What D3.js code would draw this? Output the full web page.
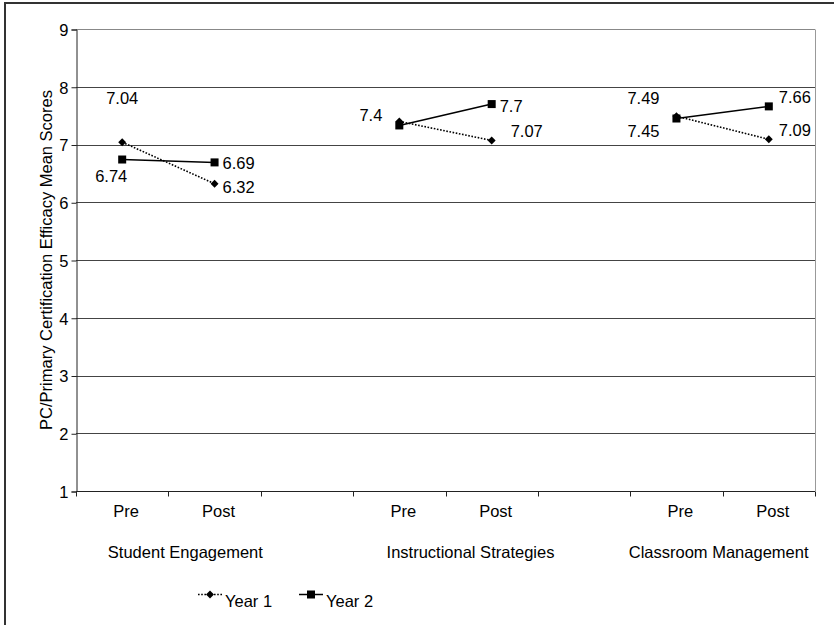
<!DOCTYPE html>
<html>
<head>
<meta charset="utf-8">
<script src="https://cdn.jsdelivr.net/npm/d3@7"></script>
<style>
  body { margin: 0; background: #fff; }
  svg text { font-family: "Liberation Sans", Arial, sans-serif; font-size: 16.5px; fill: #000; }
</style>
</head>
<body>
<div id="chart"></div>
<script>
// chart values
const groups = ["Student Engagement", "Instructional Strategies", "Classroom Management"];
const phases = ["Pre", "Post"];
const yTicks = [1, 2, 3, 4, 5, 6, 7, 8, 9];
const year1 = [7.04, 6.32, 7.40, 7.07, 7.49, 7.09];
const year2 = [6.74, 6.69, 7.33, 7.70, 7.45, 7.66];
const year1Labels = ["7.04", "6.32", "7.4", "7.07", "7.49", "7.09"];
const year2Labels = ["6.74", "6.69", null, "7.7", "7.45", "7.66"];
const seriesNames = ["Year 1", "Year 2"];

// hand placed label offsets (like the original sheet) [dx, dy to baseline, anchor]
const year1Offsets = [[0, -38, "middle"], [8, 9, "start"], [-17, 0, "end"], [19, -3, "start"], [-33, -12, "middle"], [10, -3, "start"]];
const year2Offsets = [[-11, 22, "middle"], [8, 7, "start"], [0, 0, "start"], [8, 8, "start"], [-33, 18, "middle"], [10, -3, "start"]];
const groupShift = [17, 25, -4];

const W = 834, H = 625;
const margin = { top: 29, right: 19, bottom: 134, left: 76 };

const svg = d3.select("#chart").append("svg")
    .attr("width", W).attr("height", H);

// outer frame (only top + left show in the picture)
svg.append("rect")
    .attr("x", 5).attr("y", 3)
    .attr("width", W + 20).attr("height", H + 20)
    .attr("fill", "none").attr("stroke", "#333").attr("stroke-width", 2);

// slots: Pre, Post, gap, Pre, Post, gap, Pre, Post
const slots = [];
groups.forEach((g, i) => {
    phases.forEach(p => slots.push(i + "-" + p));
    if (i < groups.length - 1) slots.push(i + "-gap");
});
const keys = [];
groups.forEach((g, i) => phases.forEach(p => keys.push(i + "-" + p)));

const x = d3.scaleBand().domain(slots).range([margin.left, W - margin.right]).padding(0);
const y = d3.scaleLinear().domain([1, 9]).range([H - margin.bottom, margin.top]);
const cx = k => x(k) + x.bandwidth() / 2;

// gridlines
svg.append("g").selectAll("line")
    .data(yTicks.filter(d => d > 1))
    .join("line")
    .attr("x1", margin.left).attr("x2", W - margin.right)
    .attr("y1", d => Math.round(y(d)) + 0.5).attr("y2", d => Math.round(y(d)) + 0.5)
    .attr("stroke", d => d === 9 ? "#888" : "#444").attr("stroke-width", 1);

// right border of plot
svg.append("line")
    .attr("x1", W - margin.right + 0.5).attr("x2", W - margin.right + 0.5)
    .attr("y1", Math.round(y(9)) + 0.5).attr("y2", y(1))
    .attr("stroke", "#999");

// y axis
const yAxis = svg.append("g")
    .attr("transform", "translate(" + (margin.left + 0.5) + ",0.5)")
    .call(d3.axisLeft(y).tickValues(yTicks).tickFormat(d3.format("d")).tickSize(5).tickPadding(3));
yAxis.select(".domain").attr("stroke", "#222");
yAxis.selectAll(".tick line").attr("stroke", "#222");
yAxis.selectAll("text").style("font-size", "16.5px").attr("dy", "0.36em");

// x axis, ticks at slot boundaries
const xAxisG = svg.append("g").attr("transform", "translate(0," + (Math.round(y(1)) + 0.5) + ")");
xAxisG.append("line")
    .attr("x1", margin.left).attr("x2", W - margin.right)
    .attr("stroke", "#222");
xAxisG.selectAll(".tk")
    .data(slots.map(s => x(s)).concat([W - margin.right]))
    .join("line").attr("class", "tk")
    .attr("x1", d => Math.round(d) + 0.5).attr("x2", d => Math.round(d) + 0.5)
    .attr("y1", 0).attr("y2", 5)
    .attr("stroke", "#222");

// phase labels
svg.append("g").selectAll("text")
    .data(keys)
    .join("text")
    .attr("x", d => cx(d) + 4)
    .attr("y", 517)
    .attr("text-anchor", "middle")
    .text(d => d.split("-")[1]);

// group labels
svg.append("g").selectAll("text")
    .data(groups)
    .join("text")
    .attr("x", (d, i) => (cx(i + "-Pre") + cx(i + "-Post")) / 2 + groupShift[i])
    .attr("y", 558)
    .attr("text-anchor", "middle")
    .text(d => d);

// y title
svg.append("text")
    .attr("transform", "translate(52," + ((y(1) + y(9)) / 2) + ") rotate(-90)")
    .attr("text-anchor", "middle")
    .text("PC/Primary Certification Efficacy Mean Scores");

const diamond = d3.symbol().type(d3.symbolDiamond2).size(40);

function drawSeries(vals, labels, offsets, dashed, marker) {
    const g = svg.append("g");
    // one segment per group
    groups.forEach((grp, i) => {
        const pts = phases.map((p, j) => [cx(i + "-" + p), y(vals[i * 2 + j])]);
        g.append("path")
            .attr("d", d3.line()(pts))
            .attr("fill", "none").attr("stroke", "#000")
            .attr("stroke-width", dashed ? 1.6 : 1.5)
            .attr("stroke-dasharray", dashed ? "1.6,1.6" : null);
    });
    if (marker === "diamond") {
        g.selectAll(".m").data(vals).join("path").attr("class", "m")
            .attr("d", diamond)
            .attr("transform", (d, i) => "translate(" + cx(keys[i]) + "," + y(d) + ")")
            .attr("fill", "#000");
    } else {
        g.selectAll(".m").data(vals).join("rect").attr("class", "m")
            .attr("x", (d, i) => cx(keys[i]) - 4).attr("y", d => y(d) - 4)
            .attr("width", 8).attr("height", 8)
            .attr("fill", "#000");
    }
    const pts = vals.map((v, i) => ({ v: v, i: i, label: labels[i] })).filter(p => p.label != null);
    g.selectAll(".lbl").data(pts).join("text").attr("class", "lbl")
        .attr("x", p => cx(keys[p.i]) + offsets[p.i][0])
        .attr("y", p => y(p.v) + offsets[p.i][1])
        .attr("text-anchor", p => offsets[p.i][2])
        .text(p => p.label);
}

drawSeries(year2, year2Labels, year2Offsets, false, "square");
drawSeries(year1, year1Labels, year1Offsets, true, "diamond");

// legend
const legend = svg.append("g");
const legX = [198, 299];
seriesNames.forEach((name, i) => {
    const lg = legend.append("g").attr("transform", "translate(" + legX[i] + ",594.5)");
    lg.append("line").attr("x1", 0).attr("x2", 24)
        .attr("stroke", "#000").attr("stroke-width", i === 0 ? 1.6 : 1.5)
        .attr("stroke-dasharray", i === 0 ? "1.6,1.6" : null);
    if (i === 0) {
        lg.append("path").attr("d", diamond).attr("transform", "translate(12,0)").attr("fill", "#000");
    } else {
        lg.append("rect").attr("x", 8).attr("y", -4).attr("width", 8).attr("height", 8).attr("fill", "#000");
    }
    lg.append("text").attr("x", 27).attr("y", 12).text(name);
});
</script>
</body>
</html>
